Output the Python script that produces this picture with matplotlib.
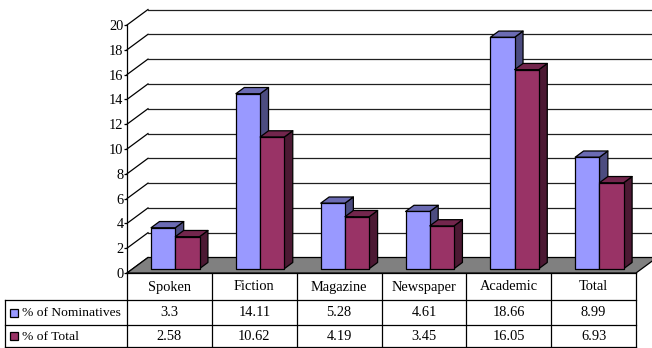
import numpy as np
import matplotlib
matplotlib.use('agg')
import matplotlib.pyplot as plt
from matplotlib.patches import Polygon, Rectangle

categories = ['Spoken', 'Fiction', 'Magazine', 'Newspaper', 'Academic', 'Total']
series_names = ['% of Nominatives', '% of Total']
nominatives = [3.3, 14.11, 5.28, 4.61, 18.66, 8.99]
of_total = [2.58, 10.62, 4.19, 3.45, 16.05, 6.93]
y_ticks = list(range(0, 21, 2))

face_colors = ['#9999FF', '#993366']
top_colors = ['#6B6BB3', '#73264D']
side_colors = ['#4C4C80', '#4C1933']

W, H = 652, 348
# front plane of the plot in pixels
X0, X1 = 127, 636
Y0, Y20 = 273, 25
# depth offset of the back wall in pixels
DXP, DYP = 21, 15.5

plt.rcParams['font.family'] = ['Liberation Serif', 'DejaVu Serif']
FS = 10.4
FS_LAB = 9.7

fig = plt.figure(figsize=(W / 100, H / 100), dpi=100)
ax = fig.add_axes([X0 / W, (H - Y0) / H, (X1 - X0) / W, (Y0 - Y20) / H])
n = len(categories)
ax.set_xlim(0, n)
ax.set_ylim(0, 20)

px_x = (X1 - X0) / n
px_y = (Y0 - Y20) / 20
DX = DXP / px_x
DY = DYP / px_y

for s in ['top', 'right', 'bottom']:
    ax.spines[s].set_visible(False)
ax.spines['left'].set_linewidth(0.9)
ax.set_xticks([])
ax.set_yticks(y_ticks)
ax.tick_params(axis='y', direction='out', length=2.2, width=0.9, pad=0.3, labelsize=FS)
ax.patch.set_visible(False)

# walls: diagonals on the side and horizontal lines on the back
for v in y_ticks:
    ax.plot([0, DX], [v, v + DY], color='black', lw=0.9, clip_on=False, zorder=1)
    if v > 0:
        ax.plot([DX, n + DX + 1], [v + DY, v + DY], color='#202020', lw=0.9,
                clip_on=False, zorder=1)

floor = Polygon([(0, 0), (n, 0), (n + DX, DY), (DX, DY)], closed=True,
                facecolor='#808080', edgecolor='black', lw=0.9, clip_on=False, zorder=2)
ax.add_patch(floor)

bar_w = 1 / 3.5
d0, d1 = 0.28, 0.68


def draw_bar(x0, v, k):
    x1 = x0 + bar_w
    ax0, ay0 = d0 * DX, d0 * DY
    ax1, ay1 = d1 * DX, d1 * DY
    front = [(x0 + ax0, ay0), (x1 + ax0, ay0), (x1 + ax0, v + ay0), (x0 + ax0, v + ay0)]
    top = [(x0 + ax0, v + ay0), (x1 + ax0, v + ay0), (x1 + ax1, v + ay1), (x0 + ax1, v + ay1)]
    side = [(x1 + ax0, ay0), (x1 + ax1, ay1), (x1 + ax1, v + ay1), (x1 + ax0, v + ay0)]
    for pts, c in [(side, side_colors[k]), (top, top_colors[k]), (front, face_colors[k])]:
        ax.add_patch(Polygon(pts, closed=True, facecolor=c, edgecolor='black',
                             lw=0.9, joinstyle='round', clip_on=False, zorder=3))


for i in range(n):
    left = i + 0.5 - bar_w
    for k, vals in enumerate([nominatives, of_total]):
        draw_bar(left + k * bar_w, vals[i], k)

# data table under the plot, drawn in pixel coordinates
tab = fig.add_axes([0, 0, 1, 1], zorder=-1)
tab.set_xlim(0, W)
tab.set_ylim(H, 0)
tab.axis('off')

row_y = [Y0, 300, 325, 347]
col_x = [X0 + i * px_x for i in range(n + 1)]
lab_x = 5
lc = dict(color='black', lw=0.9)

for y in row_y:
    tab.plot([X0, X1], [y, y], **lc)
for y in row_y[1:]:
    tab.plot([lab_x, X0], [y, y], **lc)
for x in col_x:
    tab.plot([x, x], [Y0, row_y[-1]], **lc)
tab.plot([lab_x, lab_x], [row_y[1], row_y[-1]], **lc)

for i, c in enumerate(categories):
    xc = (col_x[i] + col_x[i + 1]) / 2
    tab.text(xc, (row_y[0] + row_y[1]) / 2 + 0.5, c, ha='center', va='center', fontsize=FS)
    tab.text(xc, (row_y[1] + row_y[2]) / 2 + 0.5, f'{nominatives[i]:g}', ha='center', va='center', fontsize=FS)
    tab.text(xc, (row_y[2] + row_y[3]) / 2 + 0.5, f'{of_total[i]:g}', ha='center', va='center', fontsize=FS)

for k, name in enumerate(series_names):
    yc = (row_y[k + 1] + row_y[k + 2]) / 2
    tab.add_patch(Rectangle((10, yc - 4), 8, 8, facecolor=face_colors[k], edgecolor='black', lw=0.9))
    tab.text(22.5, yc + 0.5, name, ha='left', va='center', fontsize=FS_LAB)

fig.savefig('out.png', dpi=100)
